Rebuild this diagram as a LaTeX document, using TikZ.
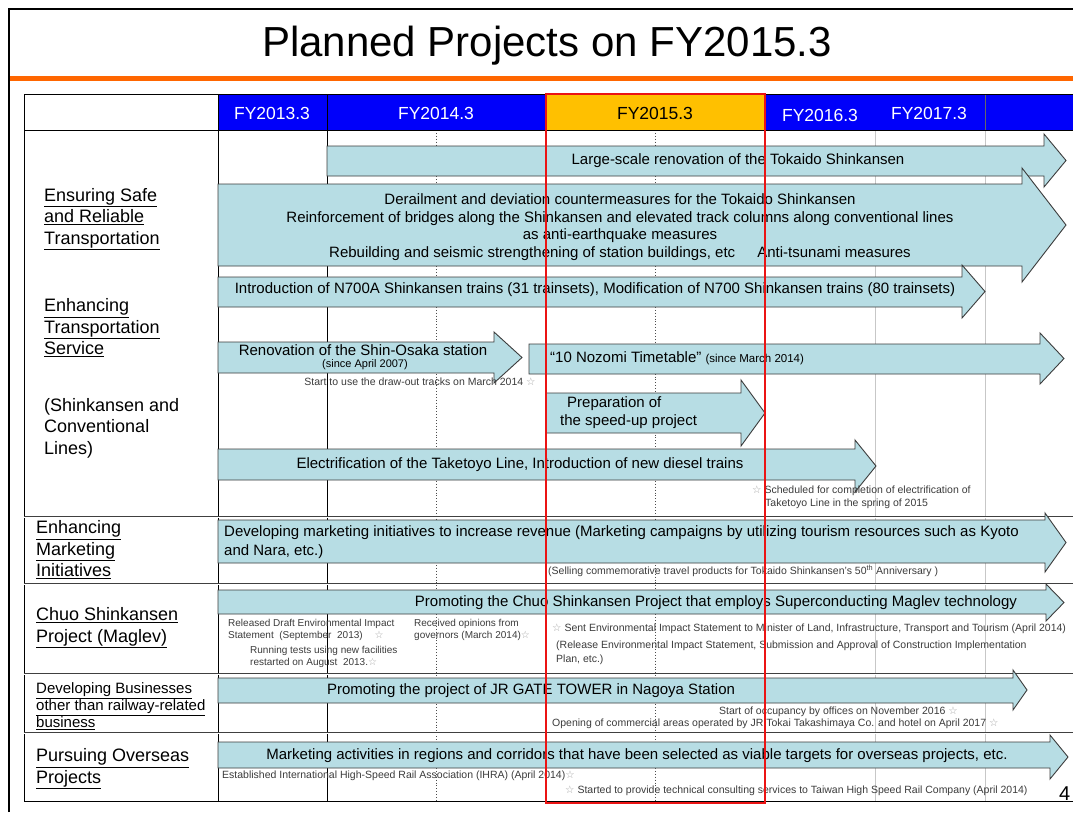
\documentclass[tikz,border=0pt]{standalone}
\usepackage{fontspec}
\setmainfont{Liberation Sans}
\newfontfamily\symfont{DejaVu Sans}
\usetikzlibrary{calc}

\definecolor{hdrblue}{RGB}{0,0,250}
\definecolor{hdrgold}{RGB}{255,192,0}
\definecolor{bandfill}{RGB}{183,221,228}
\definecolor{bandline}{RGB}{60,60,60}
\definecolor{rulered}{RGB}{235,20,20}
\definecolor{titleorange}{RGB}{255,102,0}
\definecolor{notegray}{RGB}{60,60,60}

% hollow star used after the milestone notes
\newcommand{\st}{{\symfont\textcolor{black!35}{☆}}}
% block arrow: x0, y-top, y-bottom, x-head, head-top, head-bottom, x-tip
\newcommand{\blockarrow}[7]{%
  \draw[band] (#1,#2) -- (#4,#2) -- (#4,#5) -- (#7,{(#5+#6)/2}) -- (#4,#6)
    -- (#4,#3) -- (#1,#3) -- cycle;}

\tikzset{
  band/.style={draw=bandline, fill=bandfill, line width=0.9pt, line join=miter},
  bandtext/.style={font=\fontsize{15}{18}\selectfont, inner sep=0pt, align=center},
  note/.style={font=\fontsize{10.5}{12}\selectfont, text=notegray, inner sep=0pt, align=left},
  smallnote/.style={note, font=\fontsize{10}{12}\selectfont},
  topic/.style={font=\fontsize{18}{21.5}\selectfont, inner sep=0pt, align=left, anchor=west},
  year/.style={font=\fontsize{17.5}{20}\selectfont, text=white, inner sep=0pt},
  sep/.style={draw=black!75, line width=0.6pt, double=white, double distance=1pt},
}

\begin{document}
\begin{tikzpicture}[x=1pt,y=-1pt,line cap=butt]
\useasboundingbox[fill=white] (0,0) rectangle (1073,812);

% frame and title
\draw[line width=2.5pt] (9,812) -- (9,9) -- (1073,9);
\fill[titleorange] (10,76) rectangle (1073,81);
\node[font=\fontsize{42}{48}\selectfont, inner sep=0pt] (title) at (547,46) {Planned Projects on FY2015.3};

% header row
\fill[hdrblue] (218,94) rectangle (1073,130);
\fill[hdrgold] (546,94) rectangle (765,130);
\draw[line width=0.8pt, black!60] (985,94) -- (985,130);
\node[year] (fy13) at (272,113) {FY2013.3};
\node[year] (fy14) at (436,113) {FY2014.3};
\node[year, text=black] (fy15) at (655,113) {FY2015.3};
\node[year] (fy16) at (820,115) {FY2016.3};
\node[year] (fy17) at (929,113) {FY2017.3};

% table grid
\foreach \x in {436,655}
  \draw[dotted, line width=0.9pt, black!70] (\x,130) -- (\x,801);
\foreach \x in {875,985}
  \draw[black!22, line width=0.8pt] (\x,130) -- (\x,801);
\draw[line width=1pt] (24,94) -- (1073,94);
\draw[line width=1pt] (24,130) -- (1073,130);
\draw[line width=1pt] (24,94) -- (24,801) -- (1073,801);
\draw[line width=1pt] (218,94) -- (218,801);
\draw[line width=1pt] (327,94) -- (327,801);
\foreach \y in {517,584,674,733}
  \draw[sep] (24,\y) -- (1073,\y);

% section labels
\node[topic] (safe) at (44,219) {\underline{Ensuring Safe}\\\underline{and Reliable}\\\underline{Transportation}};
\node[topic] (service) at (44,328) {\underline{Enhancing}\\\underline{Transportation}\\\underline{Service}};
\node[topic] (lines) at (44,428) {(Shinkansen and\\Conventional\\Lines)};
\node[topic] (mkt) at (36,550) {\underline{Enhancing}\\\underline{Marketing}\\\underline{Initiatives}};
\node[topic] (chuo) at (36,628) {\underline{Chuo Shinkansen}\\\underline{Project (Maglev)}};
\node[topic, font=\fontsize{15}{17}\selectfont] (biz) at (36,706) {\underline{Developing Businesses}\\\underline{other than railway-related}\\\underline{business}};
\node[topic] (overseas) at (36,769) {\underline{Pursuing Overseas}\\\underline{Projects}};

% project arrows
\blockarrow{327}{146}{176}{1044}{134}{187}{1066}
\blockarrow{218}{184}{266}{1022}{168}{282}{1066}
\blockarrow{218}{277}{307}{962}{265}{318}{985}
\blockarrow{218}{342}{373}{494}{332}{383}{522}
\blockarrow{529}{344}{374}{1040}{333}{384}{1064}
\blockarrow{546}{393}{433}{741}{380}{446}{765}
\blockarrow{218}{449}{480}{855}{440}{492}{876}
\blockarrow{218}{520}{563}{1045}{513}{572}{1066}
\blockarrow{218}{590}{614}{1046}{584}{621}{1064}
\blockarrow{218}{678}{703}{1013}{670}{710}{1027}
\blockarrow{218}{742}{768}{1050}{735}{779}{1068}

\node[bandtext] (renov) at (738,161) {Large-scale renovation of the Tokaido Shinkansen};
\node[bandtext, font=\fontsize{15}{17.7}\selectfont] (quake) at (620,227)
  {Derailment and deviation countermeasures for the Tokaido Shinkansen\\
   Reinforcement of bridges along the Shinkansen and elevated track columns along conventional lines\\
   as anti-earthquake measures\\
   Rebuilding and seismic strengthening of station buildings, etc\hspace{1.2em} Anti-tsunami measures};
\node[bandtext] (n700) at (595,290) {Introduction of N700A Shinkansen trains (31 trainsets), Modification of N700 Shinkansen trains (80 trainsets)};
\node[bandtext] (osaka) at (363,350) {Renovation of the Shin-Osaka station};
\node[bandtext, font=\fontsize{11}{13}\selectfont] (osakasince) at (365,365) {(since April 2007)};
\node[bandtext, anchor=west] (nozomi) at (550,358) {“10 Nozomi Timetable” {\fontsize{11.5}{13}\selectfont(since March 2014)}};
\node[bandtext, anchor=west, align=left] (speedup) at (560,413) {\hspace*{7pt}Preparation of\\the speed-up project};
\node[bandtext] (taketoyo) at (520,465) {Electrification of the Taketoyo Line, Introduction of new diesel trains};
\node[bandtext, anchor=west, align=left, font=\fontsize{15}{19}\selectfont] (campaign) at (224,542)
  {Developing marketing initiatives to increase revenue (Marketing campaigns by utilizing tourism resources such as Kyoto\\and Nara, etc.)};
\node[bandtext] (maglev) at (716,603) {Promoting the Chuo Shinkansen Project that employs Superconducting Maglev technology};
\node[bandtext] (gate) at (531,691) {Promoting the project of JR GATE TOWER in Nagoya Station};
\node[bandtext] (targets) at (637,756) {Marketing activities in regions and corridors that have been selected as viable targets for overseas projects, etc.};

% milestone notes
\node[note] (drawout) at (420,382) {Start to use the draw-out tracks on March 2014 \st};
\node[note, anchor=west, font=\fontsize{10.5}{13}\selectfont] (electric) at (752,497) {\st\ Scheduled for completion of electrification of\\\hspace*{13pt}Taketoyo Line in the spring of 2015};
\node[note, anchor=west] (fiftieth) at (548,571) {(Selling commemorative travel products for Tokaido Shinkansen's 50\textsuperscript{th} Anniversary )};
\node[smallnote, anchor=west] (draft) at (228,630) {Released Draft Environmental Impact\\Statement\ \ (September\ \ 2013)\hspace{12pt}\st};
\node[smallnote, anchor=west] (tests) at (250,657) {Running tests using new facilities\\restarted on August\ \ 2013.\st};
\node[smallnote, anchor=west] (governors) at (414,630) {Received opinions from\\governors (March 2014)\st};
\node[note, anchor=west] (minister) at (552,629) {\st\ Sent Environmental Impact Statement to Minister of Land, Infrastructure, Transport and Tourism (April 2014)};
\node[note, anchor=west, font=\fontsize{10.5}{14}\selectfont] (approval) at (556,653) {(Release Environmental Impact Statement, Submission and Approval of Construction Implementation\\Plan, etc.)};
\node[note, anchor=east] (offices) at (958,712) {Start of occupancy by offices on November 2016 \st};
\node[note, anchor=west] (hotel) at (552,724) {Opening of commercial areas operated by JR Tokai Takashimaya Co. and hotel on April 2017 \st};
\node[note, anchor=west] (ihra) at (222,776) {Established International High-Speed Rail Association (IHRA) (April 2014)\st};
\node[note, anchor=west] (taiwan) at (565,791) {\st\ Started to provide technical consulting services to Taiwan High Speed Rail Company (April 2014)};

% current year frame
\draw[rulered, line width=2.5pt] (546,94) rectangle (765,803);

\node[font=\fontsize{20}{22}\selectfont, inner sep=0pt, anchor=west] (pageno) at (1059,794) {4};
\end{tikzpicture}
\end{document}
